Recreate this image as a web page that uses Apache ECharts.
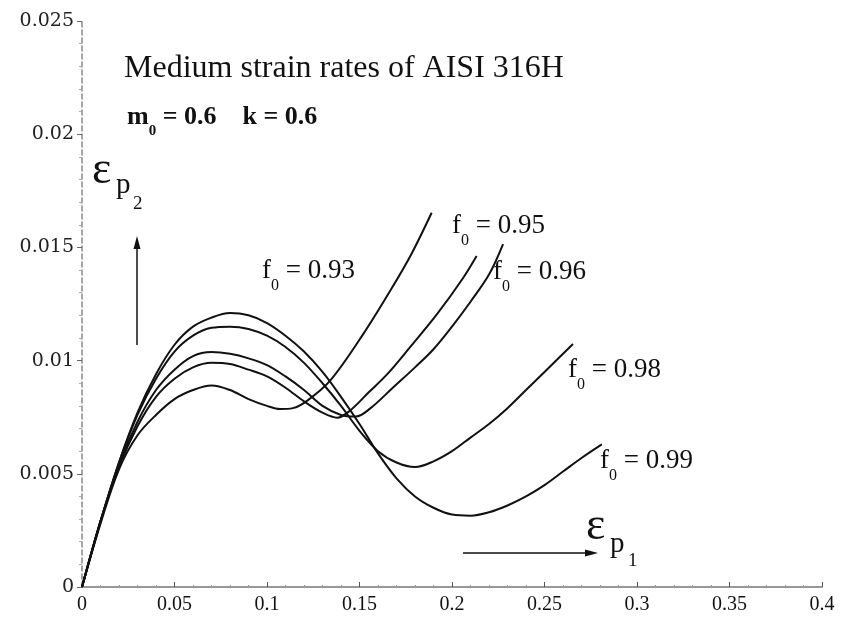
<!DOCTYPE html>
<html><head><meta charset="utf-8">
<script src="https://cdn.jsdelivr.net/npm/echarts@6/dist/echarts.min.js"></script>
<style>html,body{margin:0;padding:0;background:#fff}#c{width:848px;height:627px}</style>
</head><body><div id="c"></div>
<script>
// Tick settings
const xTicks = [0, 0.05, 0.1, 0.15, 0.2, 0.25, 0.3, 0.35, 0.4];
const yTicks = [0, 0.005, 0.01, 0.015, 0.02, 0.025];
const curveNames = ['f0 = 0.93', 'f0 = 0.95', 'f0 = 0.96', 'f0 = 0.98', 'f0 = 0.99'];

// Curves: [eps_p1, eps_p2]
const f093 = [[0,0],[0.01,0.0028],[0.02,0.0052],[0.03,0.0067],[0.04,0.0076],[0.05,0.0083],[0.06,0.0087],[0.07,0.0089],[0.08,0.0087],[0.09,0.0083],[0.1,0.0080],[0.107,0.00786],[0.114,0.0079],[0.1216,0.00822],[0.134,0.0091],[0.152,0.01117],[0.1665,0.01307],[0.178,0.0147],[0.189,0.01653]];
const f095 = [[0,0],[0.01,0.0029],[0.02,0.0053],[0.03,0.0071],[0.04,0.0084],[0.05,0.0092],[0.06,0.0097],[0.07,0.0099],[0.08,0.00985],[0.09,0.0096],[0.1,0.0093],[0.11,0.0088],[0.12,0.0082],[0.13,0.0077],[0.138,0.00748],[0.145,0.0078],[0.155,0.0086],[0.165,0.0094],[0.177,0.01056],[0.192,0.01206],[0.206,0.01365],[0.2133,0.01462]];
const f096 = [[0,0],[0.01,0.0029],[0.02,0.0054],[0.03,0.0073],[0.04,0.0087],[0.05,0.0096],[0.06,0.0102],[0.07,0.01038],[0.08,0.0103],[0.09,0.0101],[0.1,0.0098],[0.11,0.0093],[0.12,0.0087],[0.13,0.0080],[0.14,0.0076],[0.148,0.00753],[0.156,0.0079],[0.168,0.0088],[0.18,0.0097],[0.19,0.0105],[0.2,0.0115],[0.21,0.0126],[0.22,0.0138],[0.2276,0.01515]];
const f098 = [[0,0],[0.01,0.0029],[0.02,0.0055],[0.03,0.0076],[0.04,0.0092],[0.05,0.0104],[0.06,0.0111],[0.07,0.01145],[0.08,0.0115],[0.09,0.0114],[0.1,0.0111],[0.11,0.0106],[0.12,0.0099],[0.13,0.0090],[0.14,0.0080],[0.15,0.0069],[0.16,0.0060],[0.17,0.0055],[0.18,0.0053],[0.19,0.00555],[0.2,0.0060],[0.21,0.0066],[0.22,0.0072],[0.23,0.0079],[0.24,0.0087],[0.25,0.0095],[0.2654,0.01073]];
const f099 = [[0,0],[0.01,0.0029],[0.02,0.0055],[0.03,0.0077],[0.04,0.0094],[0.05,0.0107],[0.06,0.0115],[0.07,0.0119],[0.08,0.0121],[0.09,0.0120],[0.1,0.01166],[0.11,0.0111],[0.12,0.0104],[0.13,0.0095],[0.14,0.0084],[0.15,0.0072],[0.16,0.0059],[0.17,0.0048],[0.18,0.0040],[0.19,0.0035],[0.2,0.0032],[0.21,0.00315],[0.22,0.0033],[0.23,0.0036],[0.24,0.0040],[0.25,0.0045],[0.26,0.0051],[0.27,0.0057],[0.281,0.0063]];
const curves = [f093, f095, f096, f098, f099];

const chart = echarts.init(document.getElementById('c'), null, {renderer: 'canvas'});
const SERIF = '"Liberation Serif", "Times New Roman", serif';
const meas = document.createElement('canvas').getContext('2d');
function tw(text, font) { meas.font = font; return meas.measureText(text).width; }
const st = (t, f) => ({text: t, font: f, fill: '#111', textVerticalAlign: 'middle', verticalAlign: 'middle'});

// label with subscript: base, sub, rest; left x, middle y
function subLabel(x, y, base, sub, rest, size, weight, subSize, subDy) {
  const w = weight || 'normal';
  const f1 = w + ' ' + size + 'px ' + SERIF;
  const f2 = w + ' ' + subSize + 'px ' + SERIF;
  const w1 = tw(base, f1), w2 = tw(sub, f2);
  return [
    {type: 'text', x: x, y: y, style: st(base, f1), silent: true},
    {type: 'text', x: x + w1, y: y + subDy, style: st(sub, f2), silent: true},
    {type: 'text', x: x + w1 + w2, y: y, style: st(rest, f1), silent: true}
  ];
}

const labelPos = [[262, 271], [452, 226], [493, 272], [568, 370], [600, 461]];
let graphics = [];
graphics.push({type: 'text', x: 124, y: 69, style: st('Medium strain rates of AISI 316H', '32px ' + SERIF), silent: true});
graphics = graphics.concat(subLabel(127, 117, 'm', '0', ' = 0.6    k = 0.6', 26, 'bold', 15, 14));
curveNames.forEach((n, i) => {
  graphics = graphics.concat(subLabel(labelPos[i][0], labelPos[i][1], 'f', '0', ' = ' + n.split('= ')[1], 27, 'normal', 16, 15));
});
// epsilon p2
graphics.push({type: 'text', x: 92, y: 171, style: st('ε', '46px ' + SERIF), silent: true});
graphics.push({type: 'text', x: 116, y: 185, style: st('p', '29px ' + SERIF), silent: true});
graphics.push({type: 'text', x: 133, y: 204, style: st('2', '19px ' + SERIF), silent: true});
// epsilon p1
graphics.push({type: 'text', x: 586, y: 527, style: st('ε', '46px ' + SERIF), silent: true});
graphics.push({type: 'text', x: 610, y: 544, style: st('p', '29px ' + SERIF), silent: true});
graphics.push({type: 'text', x: 628, y: 561, style: st('1', '19px ' + SERIF), silent: true});
// arrows
graphics.push({type: 'line', shape: {x1: 137, y1: 345, x2: 137, y2: 246}, style: {stroke: '#111', lineWidth: 1.5}, silent: true});
graphics.push({type: 'polygon', shape: {points: [[137, 236], [133.5, 249], [140.5, 249]]}, style: {fill: '#111'}, silent: true});
graphics.push({type: 'line', shape: {x1: 463, y1: 553, x2: 588, y2: 553}, style: {stroke: '#111', lineWidth: 1.5}, silent: true});
graphics.push({type: 'polygon', shape: {points: [[598, 553], [585, 549.5], [585, 556.5]]}, style: {fill: '#111'}, silent: true});

const option = {
  animation: false,
  backgroundColor: '#fff',
  grid: {left: 82, right: 26, top: 21, bottom: 40, containLabel: false},
  xAxis: {
    type: 'value', min: xTicks[0], max: xTicks[xTicks.length - 1], interval: xTicks[1] - xTicks[0],
    splitLine: {show: false},
    axisLine: {lineStyle: {color: '#777', width: 1.5}},
    axisTick: {inside: true, length: 5, lineStyle: {color: '#555'}},
    minorTick: {show: true, splitNumber: 5, length: 2, lineStyle: {color: '#999'}},
    axisLabel: {fontFamily: SERIF, fontSize: 20, color: '#111', margin: 8}
  },
  yAxis: {
    type: 'value', min: yTicks[0], max: yTicks[yTicks.length - 1], interval: yTicks[1] - yTicks[0],
    splitLine: {show: false},
    axisLine: {lineStyle: {color: '#888', width: 1.5, type: [5, 3]}},
    axisTick: {length: 5, lineStyle: {color: '#666'}},
    minorTick: {show: true, splitNumber: 5, length: 3, lineStyle: {color: '#aaa'}},
    axisLabel: {fontFamily: '"DejaVu Serif", serif', fontSize: 19, color: '#222', margin: 8}
  },
  series: curves.map((d, i) => ({
    type: 'line', name: curveNames[i], data: d, showSymbol: false,
    smooth: 0.35,
    lineStyle: {color: '#111', width: 2}
  })),
  graphic: {elements: graphics}
};
chart.setOption(option);
</script></body></html>
